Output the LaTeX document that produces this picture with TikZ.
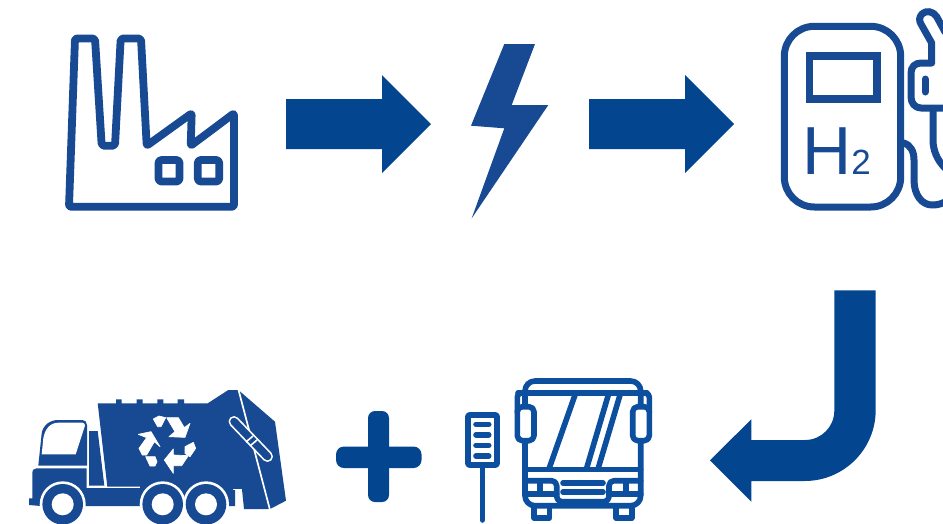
\documentclass[tikz,border=0pt]{standalone}
\usepackage{fontspec}
\setmainfont{Liberation Sans}
\definecolor{arrowblue}{HTML}{03468F}
\definecolor{iconblue}{HTML}{174A92}
\definecolor{busblue}{HTML}{0B4F9E}
\tikzset{
  blockarrow/.style={fill=arrowblue,draw=none},
  iconline/.style={draw=iconblue,line width=7.8,line join=round,line cap=round},
  pumpline/.style={draw=iconblue,line width=7,line join=round,line cap=round},
  busline/.style={draw=busblue,line width=5.6,line join=round,line cap=round},
  truckfill/.style={fill=iconblue,draw=none},
  recycle/.style={fill=white,draw=white,line width=0.7,line join=round},
}
\begin{document}
\begin{tikzpicture}[x=1pt,y=-1pt]
\clip (0,0) rectangle (943,523);

% factory
\draw[iconline,rounded corners=2] (69,206.7) -- (75,38.5) -- (95,38.5) -- (101.7,145.7) -- (115,145.7) -- (120.7,38.5) -- (141,38.5) -- (146.7,145.7) -- (191.7,113.3) -- (190.7,145.7) -- (234,113.3) -- (234,206.7) -- cycle;
\draw[iconline,rounded corners=3] (158.5,160) rectangle (179.5,181.5);
\draw[iconline,rounded corners=3] (197.8,160) rectangle (219.2,181.5);

% block arrows
\fill[blockarrow] (286,99) -- (382,99) -- (382,75) -- (431,124) -- (382,173) -- (382,149) -- (286,149) -- cycle;
\fill[blockarrow] (589,99) -- (685,99) -- (685,75) -- (734,124) -- (685,173) -- (685,149) -- (589,149) -- cycle;

% lightning
\fill[iconblue] (504.3,44) -- (535,44) -- (511.7,105) -- (548.3,105) -- (471.7,218.3) -- (504.3,128.3) -- (471,125.7) -- cycle;

% fuel pump
\draw[pumpline,rounded corners=30] (784.3,26.3) rectangle (900.7,207);
\draw[iconblue,line width=7.4] (809.5,56) rectangle (877,99);
\node[text=iconblue,anchor=base,inner sep=0pt,font=\fontsize{68}{68}\selectfont] (hletter) at (826.8,174) {H};
\node[text=iconblue,anchor=base,inner sep=0pt,font=\fontsize{35}{35}\selectfont] (htwo) at (861,174) {2};
\draw[pumpline] (903.5,143) .. controls (911,145) and (914,152) .. (914,160) -- (914,180) .. controls (914,195) and (922,205) .. (932,205) .. controls (937,205) and (941,204) .. (945,202);
\draw[pumpline] (945,32) -- (936.7,16.7) .. controls (933,11) and (926,10) .. (922,14) .. controls (919,17) and (919,21) .. (921,24) -- (931.7,43) -- (931.7,63) -- (921,63) .. controls (915,63) and (911,67) .. (911,73) -- (911,97) .. controls (911,103) and (915,108) .. (921,108) -- (945,108);
\draw[pumpline] (933,110) -- (933,140) .. controls (933,150) and (937,160) .. (945,168);
\draw[pumpline] (925,79) -- (925,92);

% curved arrow
\fill[blockarrow] (875.7,290.3) -- (875.7,410) arc[start angle=0,end angle=90,radius=71] -- (751.3,481) -- (751.3,501.7) -- (710,460.3) -- (751.3,419.3) -- (751.3,440) -- (805,440) arc[start angle=90,end angle=0,radius=29.3] -- (834.3,290.3) -- cycle;

% plus
\fill[arrowblue,rounded corners=7] (368,411) rectangle (389,502);
\fill[arrowblue,rounded corners=8] (336,446.5) rectangle (421.5,468);

% bus stop
\draw[busline,rounded corners=1] (468,415) rectangle (497,465);
\draw[busline] (482.3,465) -- (482.3,520);
\foreach \yy in {424.3,434.7,445.3,456} \draw[busline] (476,\yy) -- (488.7,\yy);

% bus
\draw[busline,rounded corners=10] (525,393) -- (525,381) -- (640.7,381) -- (640.7,393);
\draw[busline] (518,393) -- (647,393);
\draw[busline,rounded corners=10] (525,393) -- (525,505.7) -- (640.7,505.7) -- (640.7,393);
\draw[busline,rounded corners=4] (517.3,412) -- (517.3,393) -- (525,393);
\draw[busline,rounded corners=4] (649.3,412) -- (649.3,393) -- (640.7,393);
\draw[busline,fill=white,rounded corners=5] (517.3,406.7) rectangle (534,440.7);
\draw[busline,fill=white,rounded corners=5] (632.7,406.7) rectangle (649.3,440.7);
\draw[busline] (525,469.5) -- (640.7,469.5);
\draw[busline] (575,395) -- (549.3,468);
\draw[busline] (608.3,395) -- (586.7,468);
\draw[busline] (620,395) -- (598.3,468);
\draw[busline,rounded corners=5] (525,480.7) -- (556.7,480.7) -- (556.7,501.7) -- (609,501.7) -- (609,480.7) -- (640.7,480.7);
\draw[busline] (525,494) -- (556.7,494);
\draw[busline] (609,494) -- (640.7,494);
\draw[busline] (540,481) -- (540,494);
\draw[busline] (625.7,481) -- (625.7,494);
\draw[busline] (563,483) -- (603,483);
\draw[busline] (563,492) -- (603,492);
\draw[busline,line cap=butt] (534,506) -- (534,518) -- (549.5,518) -- (549.5,506);
\draw[busline,line cap=butt] (616,506) -- (616,518) -- (631.7,518) -- (631.7,506);

% truck cargo box
\fill[truckfill] (97.7,403.3) -- (116,403.3) -- (116,399.3) -- (121.7,399.3) -- (121.7,403.3) -- (136.7,403.3) -- (136.7,399.3) -- (142.7,399.3) -- (142.7,403.3) -- (157.3,403.3) -- (157.3,399.3) -- (163.3,399.3) -- (163.3,403.3) -- (177.7,403.3) -- (177.7,399.3) -- (184,399.3) -- (184,403.3) -- (207.7,403.3) -- (228.3,390) -- (238.3,390) -- (275,421.7) -- (286,500.7) -- (270,509) -- (244,509) -- (241.7,486.5) -- (107.3,486.5) -- cycle;
\fill[truckfill] (140,486) rectangle (241.5,489);
\draw[white,line width=1.7] (238.3,389) -- (270,510);
\draw[white,line width=11,line cap=round] (234,421.5) -- (267.5,456.5);
\draw[iconblue,line width=7.6,line cap=round] (234,421.5) -- (267.5,456.5);
\draw[white,line width=1.6] (246,442) -- (253,436);
\draw[white,line width=1.6] (250,446) -- (257,440);
% cab
\fill[truckfill] (38.3,465.7) -- (41.7,433.3) .. controls (43,425) and (50,420) .. (58.3,420) -- (82.3,420) .. controls (85,420) and (87,422) .. (87,425) -- (87,465.7) -- cycle;
\fill[white] (41.7,454.3) -- (43.3,438.3) .. controls (45,429) and (50,422.7) .. (58.3,422.7) -- (82.3,422.7) .. controls (84,422.7) and (85,424) .. (85,425.5) -- (75.7,454.3) -- cycle;
\fill[truckfill] (36.7,468.3) -- (86.7,468.3) -- (86.7,488) -- (233,488) -- (233,490) -- (235,490) -- (235,506) -- (41,506) -- (29,505) -- (29,498.3) -- (32.3,498.3) -- (32.3,473.3) .. controls (32.3,470) and (34,468.3) .. (36.7,468.3) -- cycle;
\fill[truckfill] (89,431) -- (97.7,431) -- (104.3,485.5) -- (89,485.5) -- cycle;
% wheels
\foreach \wx in {62.7,162.7,206} {
  \fill[white] (\wx,504.3) circle[radius=23];
}
\foreach \wx in {62.7,162.7,206} {
  \fill[iconblue] (\wx,504.3) circle[radius=20.3];
  \fill[white] (\wx,504.3) circle[radius=11];
}

% recycling symbol
\begin{scope}[shift={(125,405)},scale=1/3]
\filldraw[recycle] (85,42) -- (102,33) -- (122,38) -- (108,65) -- (98,65) -- cycle;
\filldraw[recycle] (40,88) -- (78,80) -- (105,125) -- (88,110) -- (65,150) -- (52,150) -- (42,130) -- (65,98) -- cycle;
\filldraw[recycle] (62,155) -- (90,155) -- (96,170) -- (90,183) -- (75,183) -- cycle;
\filldraw[recycle] (180,125) -- (205,112) -- (212,130) -- (195,155) -- (180,145) -- cycle;
\filldraw[recycle] (118,165) -- (145,132) -- (145,150) -- (190,152) -- (170,182) -- (145,182) -- (145,205) -- cycle;
\filldraw[recycle] (125,38) -- (160,38) -- (178,68) -- (195,55) -- (180,97) -- (132,95) -- (150,80) -- cycle;
\end{scope}
\end{tikzpicture}
\end{document}
